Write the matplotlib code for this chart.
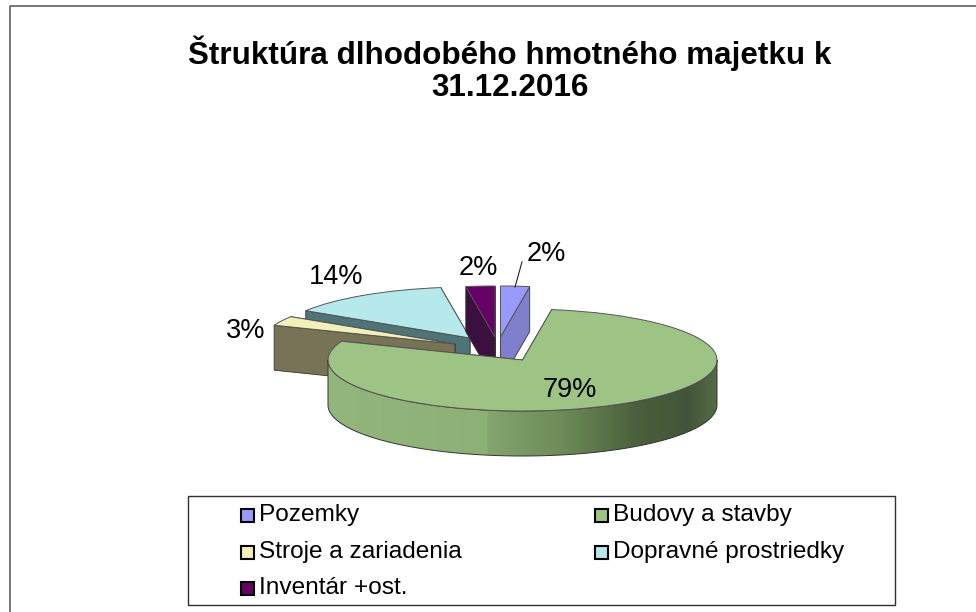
import numpy as np
import matplotlib
matplotlib.use("Agg")
import matplotlib.pyplot as plt
from matplotlib.patches import Wedge, Polygon, Rectangle

plt.rcParams["font.family"] = ["Liberation Sans", "DejaVu Sans"]

# Data (labels show the rounded percentages)
categories = ["Pozemky", "Budovy a stavby", "Stroje a zariadenia", "Dopravné prostriedky", "Inventár +ost."]
values = [2.4, 78.6, 3.0, 13.6, 2.4]
title = "Štruktúra dlhodobého hmotného majetku k\n31.12.2016"

# Styles
top_colors = ["#9999ff", "#9dc385", "#f3efbb", "#b6e9ec", "#660066"]
side_colors = ["#7f7fcc", "#8fb578", "#787357", "#4f7376", "#3b0f3e"]
pull_px = [(-22, -23), (0, 0), (-67.5, -16), (-52.5, -22), (-27.5, -23)]
label_px = [(546, 254), (570, 390), (246, 331), (336, 277), (478, 268)]
W, H = 976, 612
CX, CY, RX, RY, DEPTH = 522.5, 360, 194.5, 51, 45


def main():
    fig = plt.figure(figsize=(W / 100, H / 100), dpi=100)
    ax = fig.add_axes([0, 0, 1, 1])
    # one data unit = RX px across, RY px up, so a circle wedge turns into the flat ellipse
    ax.axis("off")
    depth = DEPTH / RY

    def to_fig(x, y):
        return x / W, 1 - y / H

    # outer frame runs off the right and bottom of the picture
    fig.add_artist(plt.Line2D([9.5 / W, 9.5 / W, 1], [0, 1 - 6 / H, 1 - 6 / H], color="#606060", lw=1.2))
    fig.add_artist(Rectangle(to_fig(188, 605), 707 / W, 109 / H, fill=False, ec="#303030", lw=1.0,
                             transform=fig.transFigure))

    fracs = np.array(values) / sum(values)
    edges = np.concatenate([[0], np.cumsum(fracs)]) * 360

    order = [3, 2, 4, 0, 1]  # back pieces first, big piece on top
    for z, i in enumerate(order):
        a1, a2 = edges[i], edges[i + 1]
        ox, oy = pull_px[i][0] / RX, -pull_px[i][1] / RY
        zorder = 2 + z

        def pt(a, drop=0.0):
            return ox + np.sin(np.radians(a)), oy + np.cos(np.radians(a)) - drop

        # cut faces, the one that shows goes last
        for a in ((a2, a1) if a1 > 180 else (a1, a2)):
            face = [pt(a), (ox, oy), (ox, oy - depth), pt(a, depth)]
            ax.add_patch(Polygon(face, closed=True, fc=side_colors[i], ec="#333333", lw=0.6, zorder=zorder))

        # rim, only the part that faces the viewer
        if a2 > 90 and a1 < 270:
            rim = np.linspace(max(a1, 90), min(a2, 270), 160)
            upper = [pt(a) for a in rim]
            lower = [pt(a, depth) for a in rim[::-1]]
            ax.add_patch(Polygon(upper + lower, closed=True, fc="none", ec="#333333", lw=0.7, zorder=zorder + 0.2))
            # shading along the rim
            stops_x = [-1.0, -0.18, -0.179, 0.2, 0.6, 0.85, 1.0]
            stops_c = ["#92b67c", "#8cb076", "#84a56f", "#6d8c58", "#4a5f3c", "#435539", "#556b44"]
            xs = np.linspace(-1, 1, 400)
            rgb = np.array([matplotlib.colors.to_rgb(c) for c in stops_c])
            grad = np.stack([np.interp(xs, stops_x, rgb[:, k]) for k in range(3)], axis=-1)[None, :, :]
            im = ax.imshow(grad, extent=(ox - 1, ox + 1, oy - 2, oy + 1), aspect="auto", zorder=zorder + 0.1)
            clip = Polygon(upper + lower, closed=True, transform=ax.transData, fc="none", ec="none")
            ax.add_patch(clip)
            im.set_clip_path(clip)

        # top face
        ax.add_patch(Wedge((ox, oy), 1, 90 - a2, 90 - a1, fc=top_colors[i], ec="#555555", lw=0.7, zorder=zorder + 0.3))

    ax.set_xlim(-CX / RX, (W - CX) / RX)
    ax.set_ylim((CY - H) / RY, CY / RY)

    # percentage labels
    for i, (lx, ly) in enumerate(label_px):
        fx, fy = to_fig(lx, ly)
        fig.text(fx, fy, f"{values[i]:.0f}%", ha="center", va="center", fontsize=19.5, color="black", zorder=20)

    # leader line of the Pozemky label
    fig.add_artist(plt.Line2D([515 / W, 522 / W], [1 - 287 / H, 1 - 262 / H], color="#222222", lw=0.8))

    fig.text(510 / W, 1 - 69.5 / H, title, ha="center", va="center", fontsize=22.6, fontweight="bold", linespacing=1.1)

    # legend, laid out by hand in the same two-column grid as the picture
    cols = [(240, 259), (594, 613)]
    rows = [515, 552, 588]
    slots = [(0, 0), (1, 0), (0, 1), (1, 1), (0, 2)]
    for i, (c, r) in enumerate(slots):
        sx, tx = cols[c]
        y = rows[r]
        fig.add_artist(Rectangle(to_fig(sx + 0.5, y + 6.5), 13 / W, 13 / H, fc=top_colors[i], ec="black", lw=1.5,
                                 transform=fig.transFigure))
        fig.text(tx / W, 1 - y / H, categories[i], ha="left", va="center", fontsize=17.6)

    plt.savefig("out.png", dpi=100)


if __name__ == "__main__":
    main()
